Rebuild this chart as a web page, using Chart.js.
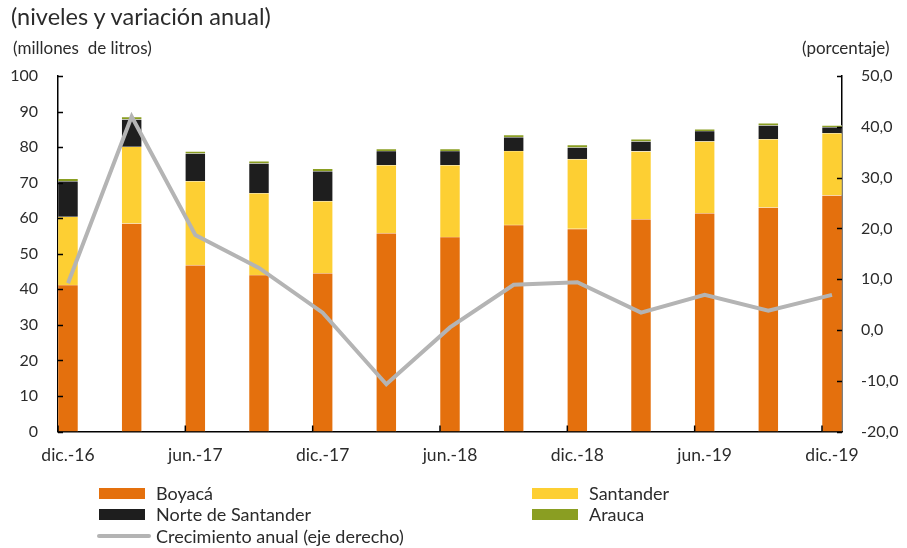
<!DOCTYPE html>
<html>
<head>
<meta charset="utf-8">
<script src="https://cdn.jsdelivr.net/npm/chart.js@4.4.1/dist/chart.umd.min.js"></script>
<style>
  html, body { margin: 0; padding: 0; background: #fff; }
  body { width: 907px; height: 548px; position: relative; overflow: hidden; font-family: Lato, "Open Sans", sans-serif; color: #2b2b2b; }
  #wrap { position: absolute; left: 0; top: 0; width: 907px; height: 548px; }
  .t { position: absolute; white-space: nowrap; }
  #title { left: 11px; top: 2px; font-size: 23.5px; }
  #unitL { left: 13px; top: 37px; font-size: 17px; }
  #unitR { left: 802px; top: 37px; font-size: 17px; }
  .lg { position: absolute; font-size: 18px; white-space: nowrap; line-height: 20px; }
  .sw { position: absolute; }
</style>
</head>
<body>
<div id="wrap"><canvas id="c" width="907" height="548"></canvas></div>
<div class="t" id="title">(niveles y variación anual)</div>
<div class="t" id="unitL">(millones&nbsp; de litros)</div>
<div class="t" id="unitR">(porcentaje)</div>
<div id="legend"></div>
<script>
// ---- data ----
const categories = ['dic.-16','mar.-17','jun.-17','sep.-17','dic.-17','mar.-18','jun.-18','sep.-18','dic.-18','mar.-19','jun.-19','sep.-19','dic.-19'];
const boyaca     = [41.2, 58.5, 46.8, 44.0, 44.5, 55.8, 54.7, 58.1, 57.0, 59.7, 61.4, 63.0, 66.4];
const santander  = [19.2, 21.6, 23.6, 23.0, 20.3, 19.1, 20.2, 20.8, 19.6, 19.1, 20.2, 19.2, 17.5];
const norte      = [10.0,  7.7,  7.8,  8.4,  8.4,  4.0,  4.0,  3.9,  3.3,  2.8,  2.9,  3.9,  1.7];
const arauca     = [ 0.7,  0.7,  0.6,  0.6,  0.7,  0.6,  0.6,  0.6,  0.7,  0.6,  0.5,  0.6,  0.5];
const crecimiento= [ 9.2, 42.0, 18.7, 12.2,  3.4,-10.7,  0.5,  8.9,  9.4,  3.4,  6.9,  3.8,  6.9];
const leftTicks  = [0,10,20,30,40,50,60,70,80,90,100];
const rightTicks = [-20,-10,0,10,20,30,40,50];

const seriesNames = ['Boyacá','Santander','Norte de Santander','Arauca','Crecimiento anual (eje derecho)'];
const colors = ['#E4700D','#FDCF33','#1E1E1E','#8A9E22','#B4B4B4'];

const BAR_W = 20;
const pad = 10 / 63.67; // half bar in category units
const toXY = arr => arr.map((v, i) => ({ x: i, y: v }));

const barDs = [boyaca, santander, norte, arauca].map((arr, k) => ({
  type: 'bar',
  label: seriesNames[k],
  data: toXY(arr),
  backgroundColor: colors[k],
  borderColor: 'rgba(255,255,255,0.55)',
  borderWidth: 0.6,
  barThickness: BAR_W,
  yAxisID: 'y',
  stack: 's',
  order: 1
}));
const lineDs = {
  type: 'line',
  label: seriesNames[4],
  data: toXY(crecimiento),
  borderColor: colors[4],
  borderWidth: 4,
  pointRadius: 0,
  tension: 0,
  yAxisID: 'y2',
  order: 0
};

// Inward tick marks plugin (uses the library's scales)
const inwardTicks = {
  id: 'inwardTicks',
  afterDatasetsDraw(chart) {
    const ctx = chart.ctx;
    const { y, y2, x } = chart.scales;
    const L = 5;
    ctx.save();
    ctx.strokeStyle = '#000';
    ctx.lineWidth = 1.5;
    ctx.beginPath();
    y.ticks.forEach(t => {
      const p = Math.round(y.getPixelForValue(t.value)) + 0.5;
      ctx.moveTo(y.right, p); ctx.lineTo(y.right + L, p);
    });
    y2.ticks.forEach(t => {
      const p = Math.round(y2.getPixelForValue(t.value)) + 0.5;
      ctx.moveTo(y2.left, p); ctx.lineTo(y2.left - L, p);
    });
    x.ticks.forEach(t => {
      const p = x.getPixelForValue(t.value) - BAR_W / 2;
      ctx.moveTo(p, x.top); ctx.lineTo(p, x.top - L - 1);
    });
    ctx.stroke();
    ctx.restore();
  }
};

const tickFont = { family: 'Lato', size: 16 };

new Chart(document.getElementById('c'), {
  data: { datasets: [...barDs, lineDs] },
  options: {
    responsive: false,
    animation: false,
    layout: { padding: { top: 76, left: 0, right: 0, bottom: 0 } },
    plugins: { legend: { display: false }, tooltip: { enabled: false } },
    scales: {
      x: {
        type: 'linear',
        offset: false,
        min: -pad, max: 12 + pad,
        stacked: true,
        afterBuildTicks: s => { s.ticks = categories.map((c, i) => ({ value: i })).filter(t => t.value % 2 === 0); },
        afterFit: s => { s.height = 116.5; },
        ticks: { callback: v => categories[v], color: '#2b2b2b', font: { family: 'Lato', size: 17.5 }, padding: 13, maxRotation: 0, autoSkip: false },
        grid: { display: false, drawTicks: false, offset: false },
        border: { display: true, color: '#000', width: 1.5 }
      },
      y: {
        position: 'left',
        min: 0, max: 100,
        stacked: true,
        afterBuildTicks: s => { s.ticks = leftTicks.map(v => ({ value: v })); },
        afterFit: s => { s.width = 58; },
        ticks: { color: '#2b2b2b', font: tickFont, padding: 20 },
        grid: { display: false, drawTicks: false },
        border: { display: true, color: '#000', width: 1.5 }
      },
      y2: {
        position: 'right',
        min: -20, max: 50,
        afterBuildTicks: s => { s.ticks = rightTicks.map(v => ({ value: v })); },
        afterFit: s => { s.width = 65; },
        ticks: { color: '#2b2b2b', font: tickFont, padding: 19, callback: v => v.toFixed(1).replace('.', ',') },
        grid: { display: false, drawTicks: false },
        border: { display: true, color: '#000', width: 1.5 }
      }
    }
  },
  plugins: [inwardTicks]
});

// HTML legend built from the series names/colours
const legendPos = [
  { sx: 99,  tx: 156, y: 493 },
  { sx: 532, tx: 589, y: 493 },
  { sx: 99,  tx: 156, y: 514 },
  { sx: 532, tx: 589, y: 514 },
  { sx: 97,  tx: 156, y: 536 }
];
const lg = document.getElementById('legend');
seriesNames.forEach((name, k) => {
  const p = legendPos[k];
  const sw = document.createElement('div');
  sw.className = 'sw';
  if (k === 4) {
    sw.style.cssText = `left:${p.sx}px;top:${p.y - 2}px;width:${151 - p.sx}px;height:4px;border-radius:2px;background:${colors[k]}`;
  } else {
    sw.style.cssText = `left:${p.sx}px;top:${p.y - 5.5}px;width:46px;height:11px;background:${colors[k]}`;
  }
  lg.appendChild(sw);
  const tx = document.createElement('div');
  tx.className = 'lg';
  tx.textContent = name;
  tx.style.left = p.tx + 'px';
  tx.style.top = (p.y - 10) + 'px';
  lg.appendChild(tx);
});
</script>
</body>
</html>
